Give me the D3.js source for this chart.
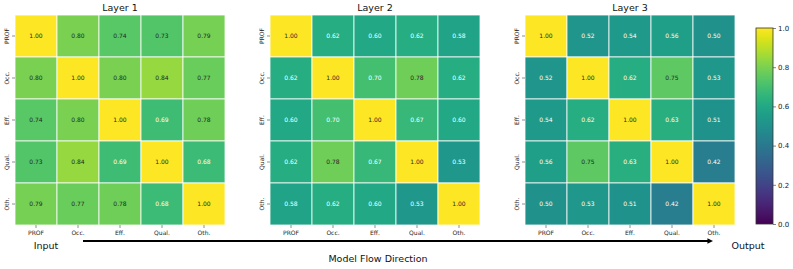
<!DOCTYPE html>
<html>
<head>
<meta charset="utf-8">
<script src="https://cdn.jsdelivr.net/npm/d3@7"></script>
<style>
  body { margin: 0; background: white; }
  svg { display: block; font-family: "DejaVu Sans", sans-serif; }
</style>
</head>
<body>
<svg id="chart" width="793" height="269"></svg>
<script>
const labels = ["PROF", "Occ.", "Eff.", "Qual.", "Oth."];
const layerNames = ["Layer 1", "Layer 2", "Layer 3"];

const layer1 = [
  [1.00, 0.80, 0.74, 0.73, 0.79],
  [0.80, 1.00, 0.80, 0.84, 0.77],
  [0.74, 0.80, 1.00, 0.69, 0.78],
  [0.73, 0.84, 0.69, 1.00, 0.68],
  [0.79, 0.77, 0.78, 0.68, 1.00]
];
const layer2 = [
  [1.00, 0.62, 0.60, 0.62, 0.58],
  [0.62, 1.00, 0.70, 0.78, 0.62],
  [0.60, 0.70, 1.00, 0.67, 0.60],
  [0.62, 0.78, 0.67, 1.00, 0.53],
  [0.58, 0.62, 0.60, 0.53, 1.00]
];
const layer3 = [
  [1.00, 0.52, 0.54, 0.56, 0.50],
  [0.52, 1.00, 0.62, 0.75, 0.53],
  [0.54, 0.62, 1.00, 0.63, 0.51],
  [0.56, 0.75, 0.63, 1.00, 0.42],
  [0.50, 0.53, 0.51, 0.42, 1.00]
];
const layers = [layer1, layer2, layer3];
const cbarTicks = [0.0, 0.2, 0.4, 0.6, 0.8, 1.0];

const svg = d3.select("#chart");
const color = d3.scaleSequential(d3.interpolateViridis).domain([0, 1]);

// panel left edges, heatmaps are square
const panelX = [15, 270, 525];
const topY = 15, size = 210;

// seaborn style: dark text on light cells
function lum(c) {
  const rgb = d3.rgb(c);
  const f = v => { v /= 255; return v <= 0.03928 ? v / 12.92 : Math.pow((v + 0.055) / 1.055, 2.4); };
  return 0.2126 * f(rgb.r) + 0.7152 * f(rgb.g) + 0.0722 * f(rgb.b);
}

layers.forEach((data, k) => {
  const x0 = panelX[k];
  const x = d3.scaleBand().domain(labels).range([x0, x0 + size]);
  const y = d3.scaleBand().domain(labels).range([topY, topY + size]);
  const g = svg.append("g");

  const cells = [];
  data.forEach((row, i) => row.forEach((v, j) => cells.push({r: labels[i], c: labels[j], v: v})));

  g.selectAll("rect")
    .data(cells)
    .join("rect")
    .attr("x", d => x(d.c))
    .attr("y", d => y(d.r))
    .attr("width", x.bandwidth())
    .attr("height", y.bandwidth())
    .attr("fill", d => color(d.v))
    .attr("stroke", "white")
    .attr("stroke-opacity", 0.8)
    .attr("stroke-width", 1);

  g.selectAll("text.val")
    .data(cells)
    .join("text")
    .attr("class", "val")
    .attr("x", d => x(d.c) + x.bandwidth() / 2)
    .attr("y", d => y(d.r) + y.bandwidth() / 2)
    .attr("dy", "0.35em")
    .attr("text-anchor", "middle")
    .attr("font-size", 6)
    .attr("fill", d => lum(color(d.v)) > 0.408 ? "#262626" : "white")
    .text(d => d.v.toFixed(2));

  // axes
  const gx = svg.append("g").attr("transform", `translate(0,${topY + size})`)
    .call(d3.axisBottom(x).tickSize(3).tickPadding(3));
  gx.select(".domain").remove();
  gx.selectAll("text").attr("font-size", 6).attr("fill", "#222").attr("font-family", "DejaVu Sans");
  gx.selectAll("line").attr("stroke", "#444").attr("stroke-width", 0.6);

  const gy = svg.append("g").attr("transform", `translate(${x0},0)`)
    .call(d3.axisLeft(y).tickSize(3).tickPadding(2));
  gy.select(".domain").remove();
  gy.selectAll("line").attr("stroke", "#444").attr("stroke-width", 0.6);
  gy.selectAll(".tick text")
    .attr("font-size", 6).attr("fill", "#222").attr("font-family", "DejaVu Sans")
    .attr("text-anchor", "middle")
    .attr("x", 0).attr("y", 0).attr("dy", 0)
    .attr("transform", "translate(-6,0) rotate(-90)");

  svg.append("text")
    .attr("x", x0 + size / 2)
    .attr("y", 11)
    .attr("text-anchor", "middle")
    .attr("font-size", 9.5)
    .attr("fill", "#111")
    .text(layerNames[k]);
});

// colorbar
const cbX = 756, cbW = 17;
const cbY = d3.scaleLinear().domain([0, 1]).range([224, 28]);
const defs = svg.append("defs");
const grad = defs.append("linearGradient").attr("id", "viridis")
  .attr("x1", 0).attr("y1", 1).attr("x2", 0).attr("y2", 0);
d3.range(0, 1.0001, 0.05).forEach(t => {
  grad.append("stop").attr("offset", t).attr("stop-color", color(t));
});
svg.append("rect")
  .attr("x", cbX).attr("y", cbY(1))
  .attr("width", cbW).attr("height", cbY(0) - cbY(1))
  .attr("fill", "url(#viridis)")
  .attr("stroke", "#333").attr("stroke-width", 0.8);
const gc = svg.append("g").attr("transform", `translate(${cbX + cbW},0)`)
  .call(d3.axisRight(cbY).tickValues(cbarTicks).tickFormat(d3.format(".1f")).tickSize(3).tickPadding(2));
gc.select(".domain").remove();
gc.selectAll("text").attr("font-size", 7).attr("fill", "#222").attr("font-family", "DejaVu Sans");
gc.selectAll("line").attr("stroke", "#333").attr("stroke-width", 0.6);

// flow arrow
defs.append("marker")
  .attr("id", "head")
  .attr("viewBox", "0 0 10 10")
  .attr("refX", 1).attr("refY", 5)
  .attr("markerWidth", 2.6).attr("markerHeight", 2.6)
  .attr("orient", "auto")
  .append("path").attr("d", "M0,0 L10,5 L0,10 Z").attr("fill", "black");
svg.append("line")
  .attr("x1", 83).attr("y1", 241)
  .attr("x2", 708).attr("y2", 241)
  .attr("stroke", "black").attr("stroke-width", 2.2)
  .attr("marker-end", "url(#head)");

svg.append("text").attr("x", 46).attr("y", 249).attr("text-anchor", "middle")
  .attr("font-size", 9.5).attr("fill", "#111").text("Input");
svg.append("text").attr("x", 748).attr("y", 249).attr("text-anchor", "middle")
  .attr("font-size", 9.5).attr("fill", "#111").text("Output");
svg.append("text").attr("x", 378).attr("y", 262).attr("text-anchor", "middle")
  .attr("font-size", 9.5).attr("fill", "#111").text("Model Flow Direction");
</script>
</body>
</html>
